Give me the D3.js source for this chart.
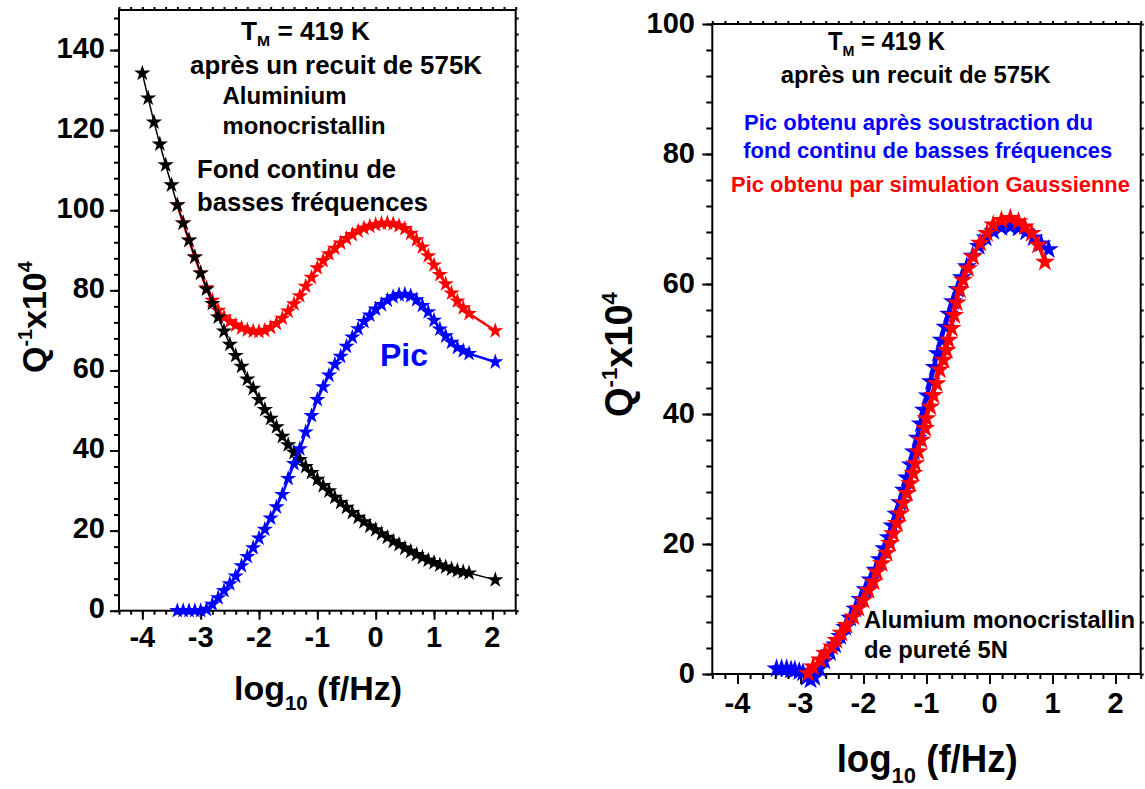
<!DOCTYPE html>
<html><head><meta charset="utf-8">
<script src="https://cdn.jsdelivr.net/npm/d3@7"></script>
<style>
body{margin:0;background:#fff}
text{font-family:"Liberation Sans",Arial,Helvetica,sans-serif;font-weight:bold}
</style>
</head><body>
<svg id="c" width="1145" height="789"></svg>
<script>
// ---------- tick labels ----------
const xTickValues = [-4, -3, -2, -1, 0, 1, 2];
const leftYTickValues = [0, 20, 40, 60, 80, 100, 120, 140];
const rightYTickValues = [0, 20, 40, 60, 80, 100];

// ---------- left panel data ----------
const bgX = [-4.0,-3.9,-3.8,-3.7,-3.6,-3.5,-3.4,-3.3,-3.2,-3.1,-3.0,-2.9,-2.8,-2.7,-2.6,-2.5,-2.4,-2.3,-2.2,-2.1,-2.0,-1.9,-1.8,-1.7,-1.6,-1.5,-1.4,-1.3,-1.2,-1.1,-1.0,-0.9,-0.8,-0.7,-0.6,-0.5,-0.4,-0.3,-0.2,-0.1,0.0,0.1,0.2,0.3,0.4,0.5,0.6,0.7,0.8,0.9,1.0,1.1,1.2,1.3,1.4,1.5,1.6,2.05];
const bgY = [134.2,128.0,122.0,116.5,111.3,106.3,101.3,96.8,92.5,88.3,84.3,80.3,76.7,73.3,69.8,66.5,63.7,61.0,57.8,55.5,52.7,50.2,48.0,45.9,43.5,41.4,39.5,37.7,36.0,34.5,32.8,31.2,29.9,28.3,27.0,25.8,24.5,23.3,22.2,21.1,20.2,19.2,18.3,17.3,16.5,15.6,14.8,14.0,13.3,12.6,12.0,11.4,10.9,10.4,10.0,9.7,9.4,7.7];

const picX = [-3.4,-3.3,-3.2,-3.1,-3.0,-2.9,-2.8,-2.7,-2.6,-2.5,-2.4,-2.3,-2.2,-2.1,-2.0,-1.9,-1.8,-1.7,-1.6,-1.5,-1.4,-1.3,-1.2,-1.1,-1.0,-0.9,-0.8,-0.7,-0.6,-0.5,-0.4,-0.3,-0.2,-0.1,0.0,0.1,0.2,0.3,0.4,0.5,0.6,0.7,0.8,0.9,1.0,1.1,1.2,1.3,1.4,1.5,1.6,2.05];
const picY = [0,0,0,0,0,0.3,1.6,3.2,5.0,6.7,8.6,11.2,13.5,15.7,18.1,20.3,23.1,25.9,29.0,33.0,36.7,40.4,44.6,48.7,52.7,55.9,58.8,61.5,63.5,66.0,68.3,70.4,72.2,73.8,75.3,76.4,77.5,78.4,78.9,79.0,78.6,77.6,76.2,74.6,72.5,70.3,68.6,67.0,65.7,64.9,64.2,62.1];

const totX = [-3.4,-3.3,-3.2,-3.1,-3.0,-2.9,-2.8,-2.7,-2.6,-2.5,-2.4,-2.3,-2.2,-2.1,-2.0,-1.9,-1.8,-1.7,-1.6,-1.5,-1.4,-1.3,-1.2,-1.1,-1.0,-0.9,-0.8,-0.7,-0.6,-0.5,-0.4,-0.3,-0.2,-0.1,0.0,0.1,0.2,0.3,0.4,0.5,0.6,0.7,0.8,0.9,1.0,1.1,1.2,1.3,1.4,1.5,1.6,2.05];
const totY = [101.3,96.8,92.5,88.3,84.3,80.6,77.5,75.0,73.3,72.2,71.3,70.6,70.1,69.8,69.7,70.0,70.7,71.7,73.0,74.8,76.6,78.6,81.0,83.2,85.6,87.4,89.1,90.5,91.8,92.9,93.9,94.8,95.5,96.0,96.4,96.7,96.8,96.6,96.1,95.4,94.2,92.6,90.8,88.6,86.3,83.9,81.6,79.3,77.3,75.6,74.2,69.9];

// ---------- right panel data ----------
const subX = [-3.38,-3.30,-3.22,-3.15,-3.09,-3.02,-2.96,-2.90,-2.84,-2.78,-2.70,-2.62,-2.53,-2.45,-2.37,-2.29,-2.21,-2.13,-2.05,-1.97,-1.89,-1.81,-1.74,-1.67,-1.60,-1.54,-1.48,-1.42,-1.36,-1.31,-1.25,-1.20,-1.14,-1.09,-1.04,-0.98,-0.93,-0.87,-0.82,-0.76,-0.70,-0.64,-0.58,-0.51,-0.44,-0.36,-0.27,-0.17,-0.06,0.06,0.19,0.33,0.46,0.58,0.70,0.82,0.94];
const subY = [0.8,0.8,0.8,0.6,0.6,0.4,0.2,-0.5,-0.9,-0.5,0.8,2.0,3.3,4.5,5.8,7.2,8.6,10.0,11.5,13.0,14.5,16.0,17.6,19.3,21.0,22.8,24.6,26.4,28.3,30.2,32.2,34.2,36.3,38.5,40.6,42.8,45.0,47.2,49.3,51.4,53.4,55.4,57.3,59.2,61.0,62.7,64.3,65.8,67.1,68.1,68.7,68.8,68.6,68.0,67.1,66.2,65.3];

const gaussX = [-2.88,-2.80,-2.69,-2.61,-2.50,-2.43,-2.35,-2.27,-2.16,-2.08,-2.00,-1.92,-1.84,-1.79,-1.71,-1.63,-1.58,-1.53,-1.47,-1.42,-1.37,-1.31,-1.26,-1.21,-1.18,-1.13,-1.08,-1.02,-1.00,-0.94,-0.89,-0.84,-0.79,-0.73,-0.68,-0.65,-0.60,-0.56,-0.52,-0.47,-0.42,-0.34,-0.26,-0.15,-0.04,0.06,0.19,0.33,0.46,0.56,0.67,0.77,0.88];
const gaussY = [0.1,1.1,2.2,3.2,4.2,5.2,6.3,7.5,8.8,10.1,11.4,12.9,14.2,15.7,17.0,18.6,20.1,21.6,23.2,24.7,26.3,27.8,29.3,30.9,32.4,34.2,36.0,37.8,39.3,41.1,42.9,44.7,46.8,48.3,49.8,51.4,53.2,55.2,57.1,59.1,60.6,62.4,64.2,66.3,67.8,69.1,69.8,70.1,69.6,68.8,67.8,66.0,63.4];

// ---------- drawing ----------
const svg = d3.select("#c");
svg.append("rect").attr("width", 1145).attr("height", 789).attr("fill", "#fff");

function txt(x, y, s, size, color, width, anchor) {
  const t = svg.append("text").attr("x", x).attr("y", y)
    .attr("font-size", size).attr("fill", color || "#000")
    .attr("text-anchor", anchor || "start").text(s);
  if (width) t.attr("textLength", width).attr("lengthAdjust", "spacingAndGlyphs");
  return t;
}

function panel(cfg) {
  const x = d3.scaleLinear().domain([-4.4, 2.4]).range(cfg.xr);
  const y = d3.scaleLinear().domain(cfg.yd).range(cfg.yr);
  const g = svg.append("g");
  const x0 = cfg.xr[0], x1 = cfg.xr[1], y0 = cfg.yr[0], y1 = cfg.yr[1];
  const xMinor = d3.range(-22, 13).map(v => v / 5);
  const yMinor = d3.range(0, cfg.yd[1] + 1, 4);

  const tickStyle = s => s.call(a => a.select(".domain").remove())
    .selectAll("line").attr("stroke", "#000").attr("stroke-width", 2);

  g.append("g").attr("transform", `translate(0,${y0})`)
    .call(d3.axisBottom(x).tickValues(xMinor).tickSize(cfg.minor).tickFormat("")).call(tickStyle);
  g.append("g").attr("transform", `translate(0,${y0})`)
    .call(d3.axisBottom(x).tickValues(xTickValues).tickSize(cfg.major).tickFormat("")).call(tickStyle);
  g.append("g").attr("transform", `translate(0,${y1})`)
    .call(d3.axisTop(x).tickValues(xMinor).tickSize(3).tickFormat("")).call(tickStyle);
  g.append("g").attr("transform", `translate(${x0},0)`)
    .call(d3.axisLeft(y).tickValues(yMinor).tickSize(cfg.minor + 1).tickFormat("")).call(tickStyle);
  g.append("g").attr("transform", `translate(${x0},0)`)
    .call(d3.axisLeft(y).tickValues(cfg.yTicks).tickSize(cfg.major).tickFormat("")).call(tickStyle);
  g.append("g").attr("transform", `translate(${x1},0)`)
    .call(d3.axisRight(y).tickValues(yMinor).tickSize(3).tickFormat("")).call(tickStyle);

  g.append("rect").attr("x", x0).attr("y", y1).attr("width", x1 - x0).attr("height", y0 - y1)
    .attr("fill", "none").attr("stroke", "#000").attr("stroke-width", 2);

  xTickValues.forEach(v => txt(x(v), cfg.xLabBase, String(v), cfg.labSize, "#000", null, "middle"));
  cfg.yTicks.forEach(v => txt(cfg.yLabRight, y(v) + cfg.yLabOff, String(v), cfg.labSize, "#000", null, "end"));

  const plot = g.append("g");
  cfg.series.forEach(s => {
    const pts = d3.zip(s.x, s.y);
    plot.append("path").datum(pts)
      .attr("d", d3.line().x(d => x(d[0])).y(d => y(d[1])))
      .attr("fill", "none").attr("stroke", s.color).attr("stroke-width", s.lw);
    plot.selectAll(null).data(pts).enter().append("path")
      .attr("transform", d => `translate(${x(d[0])},${y(d[1])})`)
      .attr("d", d3.symbol(d3.symbolStar, s.size)())
      .attr("fill", s.color);
  });
  return { x, y };
}

panel({
  xr: [119, 515.7], yr: [610.7, 10], yd: [0, 150], yTicks: leftYTickValues,
  minor: 4, major: 9, labSize: 29, xLabBase: 647, yLabRight: 105, yLabOff: 7.5,
  series: [
    { x: totX, y: totY, color: "#ff0000", lw: 2.5, size: 82 },
    { x: bgX, y: bgY, color: "#000000", lw: 1.5, size: 83 },
    { x: picX, y: picY, color: "#0000ff", lw: 2.5, size: 82 }
  ]
});

panel({
  xr: [712.3, 1140.7], yr: [674, 24], yd: [0, 100], yTicks: rightYTickValues,
  minor: 5, major: 10, labSize: 29, xLabBase: 713, yLabRight: 695, yLabOff: 9,
  series: [
    { x: subX, y: subY, color: "#0000ff", lw: 3, size: 124 },
    { x: gaussX, y: gaussY, color: "#ff0000", lw: 3, size: 124 }
  ]
});

// ---------- annotations ----------
function tm(x, y, size, w) {
  const t = svg.append("text").attr("x", x).attr("y", y).attr("font-size", size);
  t.append("tspan").text("T");
  t.append("tspan").attr("font-size", size * 0.6).attr("dy", 6).text("M");
  t.append("tspan").attr("dy", -6).text(" = 419 K");
  t.attr("textLength", w).attr("lengthAdjust", "spacingAndGlyphs");
  return t;
}
tm(241, 40, 25, 129);
txt(190, 74, "après un recuit de 575K", 25.9, "#000", 292);
txt(222.5, 104, "Aluminium", 24, "#000", 124);
txt(222.5, 134, "monocristallin", 23.8, "#000", 163);
txt(197, 178, "Fond continu de", 25.6, "#000", 199);
txt(197, 211, "basses fréquences", 25.6, "#000", 231);
txt(380, 366, "Pic", 32, "#0000ff", 48);

tm(828, 50, 25, 117);
txt(780.7, 83.3, "après un recuit de 575K", 24, "#000", 270);
txt(744, 130, "Pic obtenu après soustraction du", 22, "#0000ff", 349);
txt(743.3, 158.3, "fond continu de basses fréquences", 22, "#0000ff", 369);
txt(731, 191.7, "Pic obtenu par simulation Gaussienne", 21.9, "#ff0000", 399);
txt(864, 628.3, "Alumium monocristallin", 23.8, "#000", 271);
txt(864, 658.3, "de pureté 5N", 23.8, "#000", 144);

// ---------- axis titles ----------
function xTitle(x, y, size, w) {
  const t = svg.append("text").attr("x", x).attr("y", y).attr("font-size", size);
  t.append("tspan").text("log");
  t.append("tspan").attr("font-size", size * 0.6).attr("dy", size * 0.3).text("10");
  t.append("tspan").attr("dy", -size * 0.3).text(" (f/Hz)");
  t.attr("textLength", w).attr("lengthAdjust", "spacingAndGlyphs");
}
xTitle(234, 700, 34, 168);
xTitle(836.7, 772, 38, 181);

function yTitle(x, y, size) {
  const t = svg.append("text").attr("transform", `translate(${x},${y}) rotate(-90)`).attr("font-size", size);
  t.append("tspan").text("Q");
  t.append("tspan").attr("font-size", size * 0.58).attr("dy", -size * 0.4).text("-1");
  t.append("tspan").attr("dy", size * 0.4).text("x10");
  t.append("tspan").attr("font-size", size * 0.58).attr("dy", -size * 0.4).text("4");
}
yTitle(46, 373, 34);
yTitle(632, 417, 38);
</script>
</body></html>
